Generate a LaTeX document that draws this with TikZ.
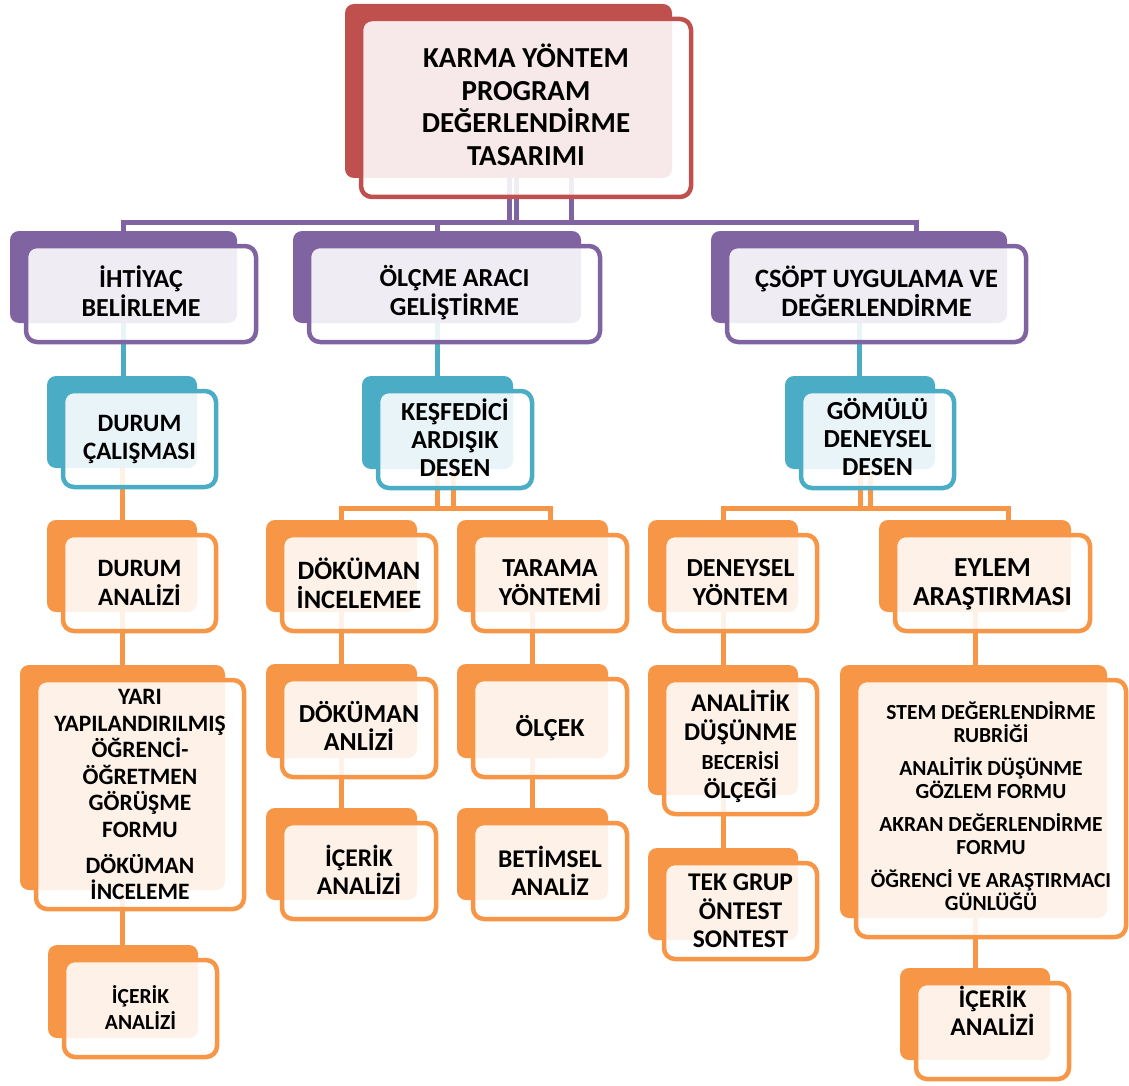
\documentclass[tikz,border=0pt]{standalone}
\usepackage{fontspec}
\setmainfont{Carlito}
\pgfdeclarelayer{bg}
\pgfsetlayers{bg,main}
\definecolor{cRed}{HTML}{C0504D}
\definecolor{cPur}{HTML}{8064A2}
\definecolor{cBlu}{HTML}{4BACC6}
\definecolor{cOra}{HTML}{F79646}
\tikzset{
  back/.style={rectangle, rounded corners=9, fill=#1, inner sep=0, outer sep=0},
  front/.style={rectangle, rounded corners=11, draw=#1, line width=4.5, fill=white, fill opacity=0.88, inner sep=0, outer sep=0},
  lbl/.style={align=center, text=black, inner sep=0, font=\bfseries\fontsize{25}{29}\selectfont},
  con/.style={draw=#1, line width=5},
}
% back box (x1,y1,x2,y2) plus its outlined front box, shifted down-right
\newcommand\pairbox[6]{%
  \node[back=#2, minimum width={#5-#3}, minimum height={#6-#4}] (#1b) at ({(#3+#5)/2},{(#4+#6)/2}) {};
  \node[front=#2, minimum width={#5-#3+3}, minimum height={#6-#4+4}] (#1f) at ({(#3+#5)/2+17.5},{(#4+#6)/2+17}) {};
}
\begin{document}
\begin{tikzpicture}[x=1pt,y=-1pt]
\useasboundingbox (0,0) rectangle (1129,1086);

% boxes
\pairbox{top}{cRed}{345}{4}{672}{178}
\pairbox{iht}{cPur}{10}{231}{237}{323}
\pairbox{olc}{cPur}{293}{231}{581}{323}
\pairbox{cs}{cPur}{711}{231}{1007}{323}
\pairbox{dc}{cBlu}{47}{376}{197}{468}
\pairbox{kes}{cBlu}{362}{376}{513}{469}
\pairbox{gom}{cBlu}{785}{376}{935}{469}
\pairbox{da}{cOra}{47}{520}{197}{612}
\pairbox{dok}{cOra}{266}{520}{417}{612}
\pairbox{tar}{cOra}{457}{520}{608}{612}
\pairbox{den}{cOra}{648}{520}{798}{612}
\pairbox{eyl}{cOra}{879}{520}{1071}{612}
\pairbox{yari}{cOra}{20}{665}{225}{890}
\pairbox{icl}{cOra}{48}{945}{198}{1038}
\pairbox{dan}{cOra}{266}{664}{417}{758}
\pairbox{icm}{cOra}{266}{808}{417}{900}
\pairbox{olk}{cOra}{457}{664}{608}{758}
\pairbox{bet}{cOra}{457}{808}{608}{900}
\pairbox{ana}{cOra}{648}{665}{798}{795}
\pairbox{tek}{cOra}{648}{848}{798}{940}
\pairbox{big}{cOra}{840}{665}{1107}{918}
\pairbox{icr}{cOra}{900}{968}{1050}{1060}

% connectors, kept beneath the boxes
\coordinate (hubL) at (122,222);
\coordinate (hubR) at (916,222);
\coordinate (tv1) at (509,222);
\coordinate (tv2) at (516,222);
\coordinate (tv3) at (571,222);
\coordinate (k1) at (453,508);
\coordinate (k2) at (550,508);
\coordinate (g1) at (870,508);
\coordinate (g2) at (1008,508);
\begin{pgfonlayer}{bg}
  \draw[con=cPur] (tv1) -- (tv1 |- topb.south);
  \draw[con=cPur] (tv2) -- (tv2 |- topb.south);
  \draw[con=cPur] (tv3) -- (tv3 |- topb.south);
  \draw[con=cPur] (ihtb.north) -- (ihtb.north |- hubL) -- (hubR) -- (hubR |- csb.north);
  \draw[con=cPur] (olcb.north) -- (olcb.north |- hubL);

  \draw[con=cBlu] (ihtb.south) -- (ihtb.south |- dcb.north);
  \draw[con=cBlu] (olcb.south) -- (olcb.south |- kesb.north);
  \draw[con=cBlu] (csb.south) -- (csb.south |- gomb.north);

  \draw[con=cOra] (dcb.south) -- (dcb.south |- dab.north);
  \draw[con=cOra] (kesb.south) -- (kesb.south |- k1);
  \draw[con=cOra] (k1) -- (k1 |- kesb.south);
  \draw[con=cOra] (dokb.north) -- (dokb.north |- k1) -- (k2) -- (k2 |- tarb.north);
  \draw[con=cOra] (gomb.south) -- (gomb.south |- g1);
  \draw[con=cOra] (g1) -- (g1 |- gomb.south);
  \draw[con=cOra] (denb.north) -- (denb.north |- g1) -- (g2) -- (g2 |- eylb.north);

  \draw[con=cOra] (dab.south) -- (dab.south |- yarib.north);
  \draw[con=cOra] (yarib.south) -- (yarib.south |- iclb.north);
  \draw[con=cOra] (dokb.south) -- (dokb.south |- danb.north);
  \draw[con=cOra] (danb.south) -- (danb.south |- icmb.north);
  \draw[con=cOra] (tarb.south) -- (tarb.south |- olkb.north);
  \draw[con=cOra] (olkb.south) -- (olkb.south |- betb.north);
  \draw[con=cOra] (denb.south) -- (denb.south |- anab.north);
  \draw[con=cOra] (anab.south) -- (anab.south |- tekb.north);
  \draw[con=cOra] (eylb.south) -- (eylb.south |- bigb.north);
  \draw[con=cOra] (icrb.north) -- (icrb.north |- bigb.south);
\end{pgfonlayer}

% labels
\node[lbl, font=\bfseries\fontsize{29}{32.5}\selectfont] (ttop) at ([yshift=3]topf.center) {KARMA YÖNTEM\\PROGRAM\\DEĞERLENDİRME\\TASARIMI};
\node[lbl, font=\bfseries\fontsize{26}{29}\selectfont] (tiht) at ([yshift=3]ihtf.center) {İHTİYAÇ\\BELİRLEME};
\node[lbl, font=\bfseries\fontsize{26}{29}\selectfont] (tolc) at ([yshift=1]olcf.center) {ÖLÇME ARACI\\GELİŞTİRME};
\node[lbl, font=\bfseries\fontsize{26.5}{29}\selectfont] (tcs) at ([yshift=3]csf.center) {ÇSÖPT UYGULAMA VE\\DEĞERLENDİRME};
\node[lbl, font=\bfseries\fontsize{25}{28}\selectfont] (tdc) at (dcf.center) {DURUM\\ÇALIŞMASI};
\node[lbl, font=\bfseries\fontsize{26}{28}\selectfont] (tkes) at ([yshift=2]kesf.center) {KEŞFEDİCİ\\ARDIŞIK\\DESEN};
\node[lbl, font=\bfseries\fontsize{26}{28}\selectfont] (tgom) at ([yshift=2]gomf.center) {GÖMÜLÜ\\DENEYSEL\\DESEN};
\node[lbl] (tda) at (daf.center) {DURUM\\ANALİZİ};
\node[lbl, font=\bfseries\fontsize{26.5}{29}\selectfont] (tdok) at (dokf.center) {DÖKÜMAN\\İNCELEMEE};
\node[lbl, font=\bfseries\fontsize{26}{29}\selectfont] (ttar) at (tarf.center) {TARAMA\\YÖNTEMİ};
\node[lbl, font=\bfseries\fontsize{26}{29}\selectfont] (tden) at (denf.center) {DENEYSEL\\YÖNTEM};
\node[lbl, font=\bfseries\fontsize{27.5}{29}\selectfont] (teyl) at ([yshift=-1]eylf.center) {EYLEM\\ARAŞTIRMASI};
\node[lbl, font=\bfseries\fontsize{23.5}{26.5}\selectfont] (tyari) at (yarif.center)
  {YARI\\YAPILANDIRILMIŞ\\ÖĞRENCİ-\\ÖĞRETMEN\\GÖRÜŞME\\FORMU\\[9.5pt]DÖKÜMAN\\İNCELEME};
\node[lbl, font=\bfseries\fontsize{21.5}{25.5}\selectfont] (ticl) at ([yshift=1]iclf.center) {İÇERİK\\ANALİZİ};
\node[lbl, font=\bfseries\fontsize{26}{28}\selectfont] (tdan) at ([yshift=2]danf.center) {DÖKÜMAN\\ANLİZİ};
\node[lbl, font=\bfseries\fontsize{25.5}{28}\selectfont] (ticm) at ([yshift=1]icmf.center) {İÇERİK\\ANALİZİ};
\node[lbl, font=\bfseries\fontsize{26}{29}\selectfont] (tolk) at (olkf.center) {ÖLÇEK};
\node[lbl, font=\bfseries\fontsize{25.5}{28}\selectfont] (tbet) at (betf.center) {BETİMSEL\\ANALİZ};
\node[lbl, font=\bfseries\fontsize{25.5}{29}\selectfont] (tana) at ([yshift=1]anaf.center) {ANALİTİK\\DÜŞÜNME\\{\fontsize{21.5}{29}\selectfont BECERİSİ}\\{\fontsize{24.5}{29}\selectfont ÖLÇEĞİ}};
\node[lbl, font=\bfseries\fontsize{25.5}{28.5}\selectfont] (ttek) at (tekf.center) {TEK GRUP\\ÖNTEST\\SONTEST};
\node[lbl, font=\bfseries\fontsize{21.5}{23}\selectfont] (tbig) at ([yshift=2]bigf.center)
  {STEM DEĞERLENDİRME\\RUBRİĞİ\\[10pt]ANALİTİK DÜŞÜNME\\GÖZLEM FORMU\\[10pt]AKRAN DEĞERLENDİRME\\FORMU\\[10pt]ÖĞRENCİ VE ARAŞTIRMACI\\GÜNLÜĞÜ};
\node[lbl, font=\bfseries\fontsize{25.5}{28}\selectfont] (ticr) at ([yshift=20]icrf.center) {İÇERİK\\ANALİZİ};
\end{tikzpicture}
\end{document}
